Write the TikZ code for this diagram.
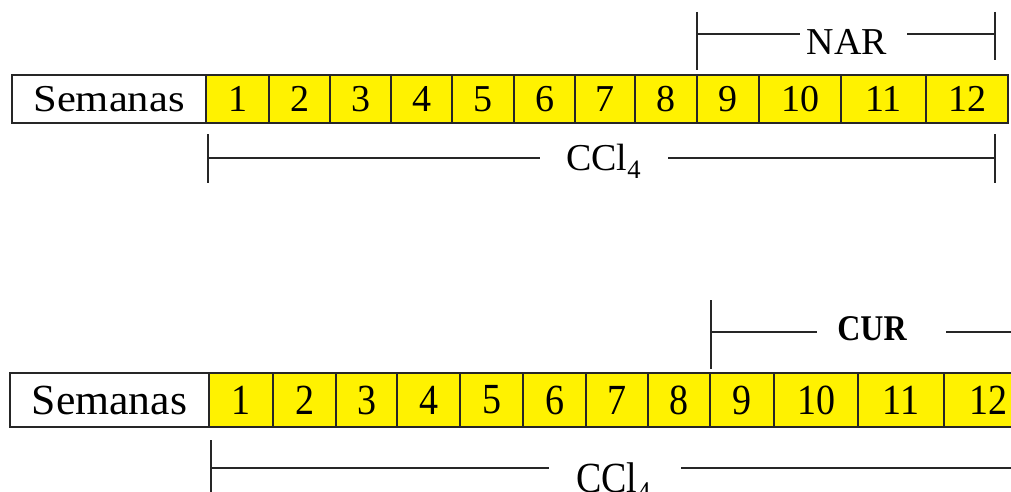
\documentclass[tikz,border=0pt]{standalone}
\usepackage{fontspec}
\setmainfont{Liberation Serif}
\usepackage{graphicx}
\newcommand\bigtxt{\fontsize{38}{40}\selectfont}
\newcommand\tallbox[1]{\scalebox{1}[1.13]{#1}}
\begin{document}
\begin{tikzpicture}[x=1pt,y=-1pt,
  cell/.style={draw=black!85,line width=1.4pt,fill=yellow,inner sep=0pt,outer sep=0pt,
               anchor=north west,font=\bigtxt},
  headcell/.style={cell,fill=white},
  rule/.style={draw=black!85,line width=1.3pt},
  lbl/.style={inner sep=0pt,outer sep=0pt,font=\bigtxt}]
\clip (0,0) rectangle (1011,492);
\fill[white] (0,0) rectangle (1011,492);

% ---------- upper timeline ----------
\node[headcell,minimum width=194,minimum height=48] (a0) at (12,75)
  {\scalebox{1.12}[1]{Semanas}};
\foreach \i/\l/\r in {1/206/269,2/269/330,3/330/391,4/391/452,5/452/514,6/514/575,
                      7/575/635,8/635/697,9/697/759,10/759/841,11/841/926,12/926/1008}
  \node[cell,minimum width={\r-\l},minimum height=48] (a\i) at (\l,75) {\i};

% NAR bracket
\coordinate (narT1) at (697,12);  \coordinate (narB1) at (697,70);
\coordinate (narM1) at (697,34);  \coordinate (narG1) at (800,34);
\coordinate (narG2) at (907,34);  \coordinate (narM2) at (995,34);
\coordinate (narT2) at (995,12);  \coordinate (narB2) at (995,60);
\node[lbl] (nar) at (847,41.5) {NAR};
\draw[rule] (narT1) -- (narB1) (narM1) -- (narG1) (narG2) -- (narM2) (narT2) -- (narB2);

% CCl4 bracket (upper)
\coordinate (ccT1) at (208,134); \coordinate (ccB1) at (208,183);
\coordinate (ccM1) at (208,158); \coordinate (ccG1) at (540,158);
\coordinate (ccG2) at (668,158); \coordinate (ccM2) at (995,158);
\coordinate (ccT2) at (995,134); \coordinate (ccB2) at (995,183);
\node[lbl,anchor=base west] (cc) at (566,170) {CCl\textsubscript{4}};
\draw[rule] (ccT1) -- (ccB1) (ccM1) -- (ccG1) (ccG2) -- (ccM2) (ccT2) -- (ccB2);

% ---------- lower timeline ----------
\node[headcell,minimum width=199,minimum height=54] (b0) at (10,373)
  {\scalebox{1.15}[1.13]{Semanas}};
\foreach \i/\l/\r in {1/209/273,2/273/336,3/336/397,4/397/460,5/460/523,6/523/586,
                      7/586/648,8/648/710,9/710/774,10/774/858,11/858/944,12/944/1032}
  \node[cell,minimum width={\r-\l},minimum height=54] (b\i) at (\l,373) {\tallbox{\i}};

% CUR bracket
\coordinate (curT1) at (711,300); \coordinate (curB1) at (711,369);
\coordinate (curM1) at (711,332); \coordinate (curG1) at (817,332);
\coordinate (curG2) at (946,332); \coordinate (curM2) at (1020,332);
\node[lbl,font=\fontsize{32}{34}\selectfont\bfseries] (cur) at (872,329) {\tallbox{CUR}};
\draw[rule] (curT1) -- (curB1) (curM1) -- (curG1) (curG2) -- (curM2);

% CCl4 bracket (lower)
\coordinate (ddT1) at (211,440); \coordinate (ddB1) at (211,496);
\coordinate (ddM1) at (211,468); \coordinate (ddG1) at (549,468);
\coordinate (ddG2) at (681,468); \coordinate (ddM2) at (1020,468);
\node[lbl,anchor=base west] (dd) at (576,492) {\tallbox{CCl\textsubscript{4}}};
\draw[rule] (ddT1) -- (ddB1) (ddM1) -- (ddG1) (ddG2) -- (ddM2);
\end{tikzpicture}
\end{document}
